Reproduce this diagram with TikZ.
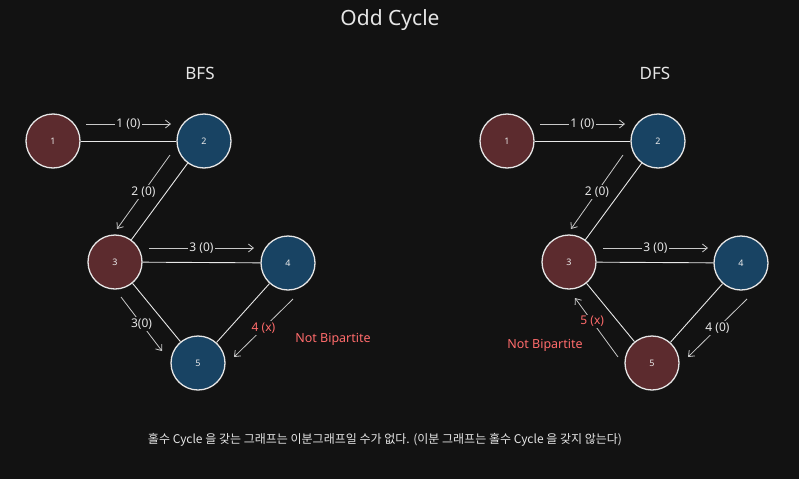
\documentclass[tikz,border=0pt]{standalone}
\usepackage{fontspec}
\setmainfont{Noto Sans}
\newfontfamily\krfont{Noto Sans CJK KR}
\usetikzlibrary{arrows.meta}
\definecolor{bg}{HTML}{121212}
\definecolor{redfill}{HTML}{5C2B2E}
\definecolor{bluefill}{HTML}{184363}
\definecolor{stroke}{HTML}{E6E6E6}
\definecolor{arrowc}{HTML}{C8C8C8}
\definecolor{warn}{HTML}{FF6B6B}
\tikzset{
  vtx/.style={circle, draw=stroke, line width=1.3pt, minimum size=54pt, inner sep=0pt, text=stroke!85, font=\fontsize{9}{10}\selectfont},
  rv/.style={vtx, fill=redfill},
  bv/.style={vtx, fill=bluefill},
  edge/.style={draw=stroke!90, line width=0.9pt},
  arr/.style={draw=arrowc, line width=0.8pt, -{Straight Barb[length=5pt,width=8pt]}},
  lbl/.style={fill=bg, inner sep=1.5pt, text=stroke, font=\fontsize{12}{14}\selectfont},
  rlbl/.style={lbl, text=warn},
  ttl/.style={text=stroke, font=\fontsize{17}{20}\selectfont},
  warnlbl/.style={text=warn, font=\fontsize{12.5}{14}\selectfont},
}
\begin{document}
\begin{tikzpicture}[x=1pt,y=-1pt]
\useasboundingbox[fill=bg] (0,0) rectangle (799,479);
\node[ttl, font=\fontsize{21}{24}\selectfont] (title) at (390,20) {Odd Cycle};
\node[ttl] (bfs) at (200,73) {BFS};
\node[ttl] (dfs) at (655,73) {DFS};

% BFS
\node[rv] (b1) at (53,141) {1};
\node[bv] (b2) at (204,141) {2};
\node[rv] (b3) at (115,262) {3};
\node[bv] (b4) at (288,263) {4};
\node[bv] (b5) at (198,363) {5};
\draw[edge] (b1) -- (b2);
\draw[edge] (b2) -- (b3);
\draw[edge] (b3) -- (b4);
\draw[edge] (b3) -- (b5);
\draw[edge] (b4) -- (b5);
\coordinate (ba1s) at (86,124); \coordinate (ba1e) at (171,124);
\coordinate (ba2s) at (170,155); \coordinate (ba2e) at (117,229);
\coordinate (ba3s) at (149,248); \coordinate (ba3e) at (254,248);
\coordinate (ba4s) at (121,297); \coordinate (ba4e) at (162,351);
\coordinate (ba5s) at (293,299); \coordinate (ba5e) at (234,357);
\draw[arr] (ba1s) -- node[lbl]{1 (0)} (ba1e);
\draw[arr] (ba2s) -- node[lbl]{2 (0)} (ba2e);
\draw[arr] (ba3s) -- node[lbl]{3 (0)} (ba3e);
\draw[arr] (ba4s) -- node[lbl]{3(0)} (ba4e);
\draw[arr] (ba5s) -- node[rlbl]{4 (x)} (ba5e);
\node[warnlbl] (bnb) at (333,339) {Not Bipartite};

% DFS
\node[rv] (d1) at (507,141) {1};
\node[bv] (d2) at (658,141) {2};
\node[rv] (d3) at (569,262) {3};
\node[bv] (d4) at (741,263) {4};
\node[rv] (d5) at (652,363) {5};
\draw[edge] (d1) -- (d2);
\draw[edge] (d2) -- (d3);
\draw[edge] (d3) -- (d4);
\draw[edge] (d3) -- (d5);
\draw[edge] (d4) -- (d5);
\coordinate (da1s) at (540,124); \coordinate (da1e) at (625,124);
\coordinate (da2s) at (623,155); \coordinate (da2e) at (571,229);
\coordinate (da3s) at (603,248); \coordinate (da3e) at (708,248);
\coordinate (da4s) at (747,299); \coordinate (da4e) at (688,357);
\coordinate (da5s) at (618,357); \coordinate (da5e) at (575,298);
\draw[arr] (da1s) -- node[lbl]{1 (0)} (da1e);
\draw[arr] (da2s) -- node[lbl]{2 (0)} (da2e);
\draw[arr] (da3s) -- node[lbl]{3 (0)} (da3e);
\draw[arr] (da4s) -- node[lbl]{4 (0)} (da4e);
\draw[arr] (da5s) -- node[rlbl, pos=0.6]{5 (x)} (da5e);
\node[warnlbl] (dnb) at (545,345) {Not Bipartite};

\node[text=stroke, font=\krfont\fontsize{12}{14}\selectfont] (note) at (385,440) {홀수 Cycle 을 갖는 그래프는 이분그래프일 수가 없다. (이분 그래프는 홀수 Cycle 을 갖지 않는다)};
\end{tikzpicture}
\end{document}
